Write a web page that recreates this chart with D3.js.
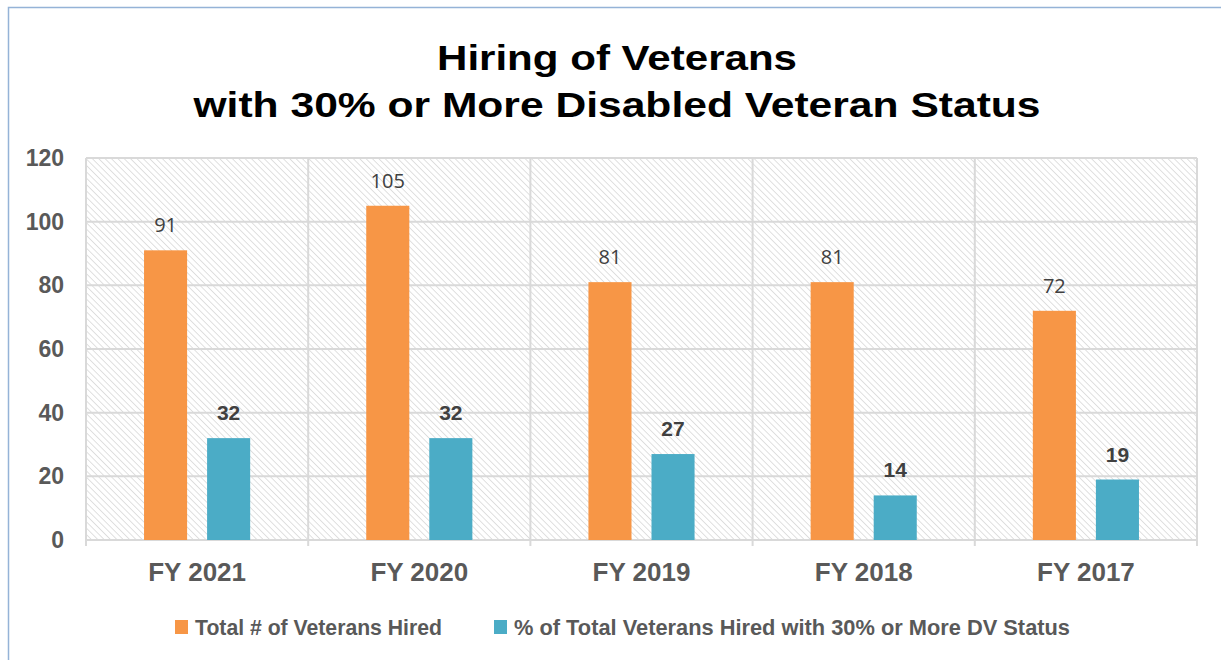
<html>
<head>
<script src="https://d3js.org/d3.v7.min.js"></script>
<style>
  body { margin: 0; background: #fff; }
  svg { display: block; }
</style>
</head>
<body>
<div id="chart"></div>
<script>
const years = ["FY 2021", "FY 2020", "FY 2019", "FY 2018", "FY 2017"];
const totalHired = [91, 105, 81, 81, 72];
const pctDV = [32, 32, 27, 14, 19];
const yTicks = [0, 20, 40, 60, 80, 100, 120];
const seriesNames = ["Total # of Veterans Hired", "% of Total Veterans Hired with 30% or More DV Status"];
const colors = ["#F79646", "#4BACC6"];

const W = 1221, H = 660;
const margin = { top: 158, right: 24, bottom: 120, left: 86 };
const width = W - margin.left - margin.right;
const height = H - margin.top - margin.bottom;

const svg = d3.select("#chart").append("svg")
  .attr("width", W).attr("height", H);

// hatch pattern for plot background
const defs = svg.append("defs");
const pat = defs.append("pattern")
  .attr("id", "hatch")
  .attr("patternUnits", "userSpaceOnUse")
  .attr("width", 4.5).attr("height", 4.5)
  .attr("patternTransform", "rotate(45)");
pat.append("rect").attr("width", 4.5).attr("height", 4.5).attr("fill", "#fff");
pat.append("line").attr("x1", 0).attr("y1", 0).attr("x2", 4.5).attr("y2", 0)
  .attr("stroke", "#d6d6d6").attr("stroke-width", 1.5);

// outer frame
svg.append("rect")
  .attr("x", 8.5).attr("y", 7.5).attr("width", W + 20).attr("height", H + 20)
  .attr("fill", "none").attr("stroke", "#95b3d7").attr("stroke-width", 1.5);

// title (stretched horizontally like the original)
const titleLines = ["Hiring of Veterans", "with 30% or More Disabled Veteran Status"];
const titleY = [70, 117];
const titleW = [360, 847];
svg.append("g").selectAll("text").data(titleLines).join("text")
  .attr("x", 617).attr("y", (d, i) => titleY[i])
  .attr("text-anchor", "middle")
  .attr("textLength", (d, i) => titleW[i])
  .attr("lengthAdjust", "spacingAndGlyphs")
  .style("font-family", "'Liberation Sans', Arial, sans-serif")
  .style("font-weight", "bold")
  .style("font-size", "35px")
  .attr("fill", "#000")
  .text(d => d);

const g = svg.append("g").attr("transform", `translate(${margin.left},${margin.top})`);

const x = d3.scaleBand().domain(years).range([0, width]).padding(0);
const inner = d3.scaleBand().domain([0, 1])
  .range([x.bandwidth() * 0.2612, x.bandwidth() * 0.7388])
  .paddingInner(0.317).paddingOuter(0);
const y = d3.scaleLinear().domain([0, 120]).range([height, 0]);

// plot background
g.append("rect").attr("width", width).attr("height", height).attr("fill", "url(#hatch)");

// horizontal gridlines
g.append("g").selectAll("line").data(yTicks).join("line")
  .attr("x1", 0).attr("x2", width)
  .attr("y1", d => y(d)).attr("y2", d => y(d))
  .attr("stroke", "#d9d9d9").attr("stroke-width", 2);

// vertical gridlines at category boundaries
const bounds = years.map(d => x(d)).concat([width]);
g.append("g").selectAll("line").data(bounds).join("line")
  .attr("x1", d => d).attr("x2", d => d)
  .attr("y1", 0).attr("y2", height + 6)
  .attr("stroke", "#d9d9d9").attr("stroke-width", 2);

// y axis labels
const yAxis = g.append("g").call(d3.axisLeft(y).tickValues(yTicks).tickSize(0).tickPadding(22));
yAxis.select(".domain").remove();
yAxis.selectAll("text")
  .style("font-family", "'Liberation Sans', Arial, sans-serif")
  .style("font-weight", "bold").style("font-size", "23px")
  .attr("fill", "#595959");

// x axis labels
const xAxis = g.append("g").attr("transform", `translate(0,${height})`)
  .call(d3.axisBottom(x).tickSize(0).tickPadding(23));
xAxis.select(".domain").remove();
xAxis.selectAll("text")
  .style("font-family", "'Liberation Sans', Arial, sans-serif")
  .style("font-weight", "bold").style("font-size", "26px")
  .attr("fill", "#595959");

// bars
const rows = years.map((yr, i) => ({ yr, vals: [totalHired[i], pctDV[i]] }));
const grp = g.append("g").selectAll("g").data(rows).join("g")
  .attr("transform", d => `translate(${x(d.yr)},0)`);

grp.selectAll("rect").data(d => d.vals.map((v, k) => ({ v, k }))).join("rect")
  .attr("x", d => inner(d.k))
  .attr("width", inner.bandwidth())
  .attr("y", d => y(d.v))
  .attr("height", d => height - y(d.v))
  .attr("fill", d => colors[d.k]);

grp.selectAll("text").data(d => d.vals.map((v, k) => ({ v, k }))).join("text")
  .attr("x", d => inner(d.k) + inner.bandwidth() / 2)
  .attr("y", d => y(d.v) - 18)
  .attr("text-anchor", "middle")
  .style("font-family", d => d.k === 0 ? "'Open Sans', 'Noto Sans', sans-serif" : "'Liberation Sans', Arial, sans-serif")
  .style("font-weight", d => d.k === 0 ? "normal" : "bold")
  .style("font-size", d => d.k === 0 ? "20px" : "21px")
  .attr("fill", "#404040")
  .text(d => d.v);

// legend
const legendX = [175, 494];
const legendW = [247, 556];
const leg = svg.append("g").selectAll("g").data(seriesNames).join("g")
  .attr("transform", (d, i) => `translate(${legendX[i]},635)`);
leg.append("rect").attr("x", 0).attr("y", -15).attr("width", 13).attr("height", 14)
  .attr("fill", (d, i) => colors[i]);
leg.append("text").attr("x", 20).attr("y", 0)
  .style("font-family", "'Liberation Sans Narrow', 'Liberation Sans', Arial, sans-serif")
  .style("font-weight", "bold").style("font-size", "22px")
  .attr("fill", "#595959")
  .attr("textLength", (d, i) => legendW[i])
  .attr("lengthAdjust", "spacingAndGlyphs")
  .text(d => d);
</script>
</body>
</html>
